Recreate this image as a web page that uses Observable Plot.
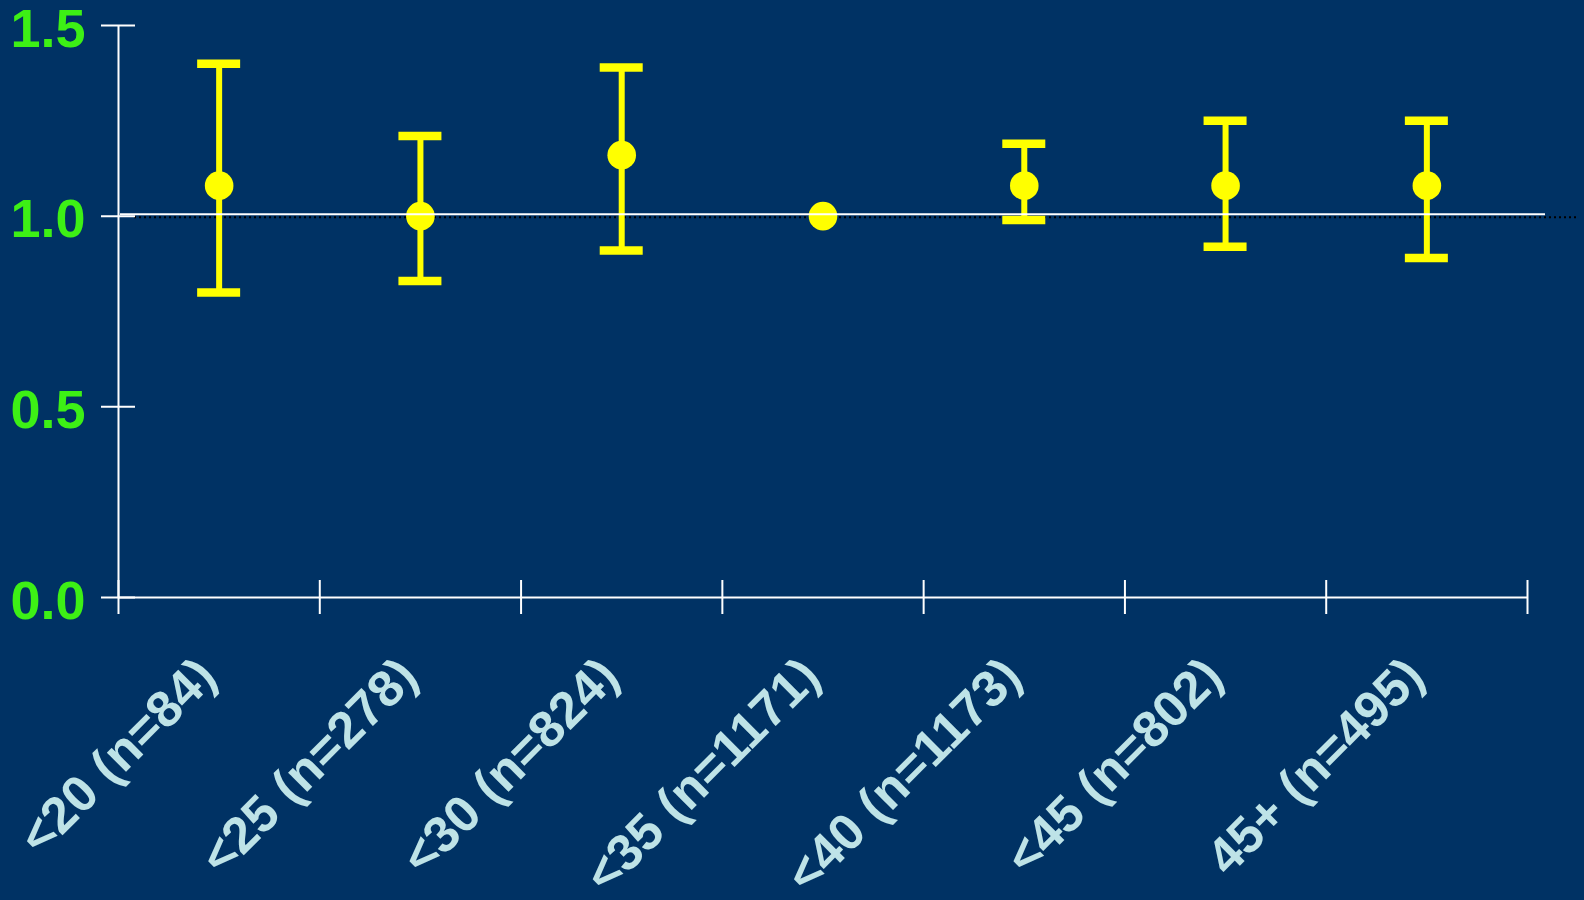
<!DOCTYPE html>
<html><head><meta charset="utf-8">
<script src="https://cdn.jsdelivr.net/npm/d3@7"></script>
<script src="https://cdn.jsdelivr.net/npm/@observablehq/plot@0.6"></script>
<style>
html,body{margin:0;padding:0;background:#003264;overflow:hidden;}
#chart svg{display:block}
</style></head>
<body><div id="chart"></div>
<script>
const categories = ["<20 (n=84)", "<25 (n=278)", "<30 (n=824)", "<35 (n=1171)", "<40 (n=1173)", "<45 (n=802)", "45+ (n=495)"];
const estimates = [1.08, 1.00, 1.16, 1.00, 1.08, 1.08, 1.08];
const lower = [0.80, 0.83, 0.91, null, 0.99, 0.92, 0.89];
const upper = [1.40, 1.21, 1.39, null, 1.19, 1.25, 1.25];
const yTicks = [0, 0.5, 1.0, 1.5];
const referenceValue = 1;

const rows = categories.map((c, i) => ({category: c, idx: i + 0.5, est: estimates[i], lo: lower[i], hi: upper[i]}));
const withCI = rows.filter(d => d.lo != null && d.hi != null);
const boundaries = d3.range(categories.length + 1);
const yAxisLine = [{x: 0, y1: yTicks[0], y2: yTicks[yTicks.length - 1]}];

const YELLOW = "#ffff00", WHITE = "#ffffff", GREEN = "#3df015", LABEL = "#bee3e7";
const FONT = "'Liberation Sans', Arial, Helvetica, sans-serif";

const chart = Plot.plot({
  width: 1584, height: 900,
  marginLeft: 118, marginRight: 57, marginTop: 25, marginBottom: 303,
  style: {background: "#003264", fontFamily: FONT, overflow: "visible"},
  x: {type: "linear", domain: [0, categories.length]},
  y: {type: "linear", domain: [yTicks[0], yTicks[yTicks.length - 1]]},
  marks: [
    // dotted reference line (extends beyond frame)
    Plot.ruleY([referenceValue], {stroke: "black", strokeWidth: 2, strokeDasharray: "2,3", insetLeft: 16, insetRight: -50, dy: 1}),
    // x axis line and boundary ticks
    Plot.ruleY([yTicks[0]], {stroke: WHITE, strokeWidth: 2}),
    Plot.axisX(boundaries, {tickSize: 34, dy: -17, tickFormat: () => "", stroke: WHITE, strokeWidth: 2, label: null}),
    // y axis line and crossing ticks
    Plot.ruleX(yAxisLine, {x: "x", y1: "y1", y2: "y2", stroke: WHITE, strokeWidth: 2}),
    Plot.axisY(yTicks, {tickSize: 34, dx: 17, tickFormat: () => "", stroke: WHITE, strokeWidth: 2, label: null}),
    Plot.axisY(yTicks, {tickSize: 0, tickPadding: 33, dy: 4, tickFormat: d3.format(".1f"), fill: GREEN, fontSize: 54, fontWeight: "bold", label: null}),
    // error bars
    Plot.ruleX(withCI, {x: "idx", y1: "lo", y2: "hi", stroke: YELLOW, strokeWidth: 6}),
    Plot.ruleY(withCI, {x1: "idx", x2: "idx", y: "lo", stroke: YELLOW, strokeWidth: 8.5, insetLeft: -21.5, insetRight: -21.5}),
    Plot.ruleY(withCI, {x1: "idx", x2: "idx", y: "hi", stroke: YELLOW, strokeWidth: 8.5, insetLeft: -21.5, insetRight: -21.5}),
    Plot.dot(rows, {x: "idx", y: "est", r: 14.3, fill: YELLOW, stroke: null}),
    // solid white reference line
    Plot.ruleY([referenceValue], {stroke: WHITE, strokeWidth: 2, insetLeft: 2, insetRight: -18, dy: -2}),
    // category labels
    Plot.text(rows, {x: "idx", frameAnchor: "bottom", text: "category", rotate: -45, textAnchor: "end", lineAnchor: "middle", dx: -12, dy: 70, fill: LABEL, fontSize: 51, fontWeight: "bold"})
  ]
});
document.getElementById("chart").appendChild(chart);
</script>
</body></html>
